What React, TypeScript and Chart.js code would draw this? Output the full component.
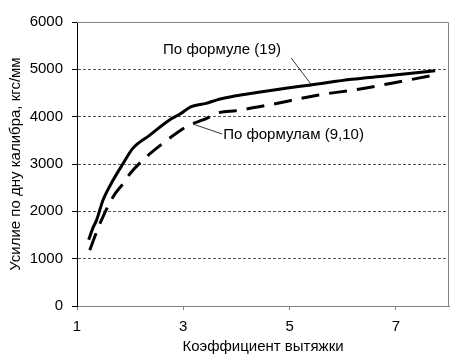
import React, { useEffect, useRef } from 'react';
import { Chart, registerables } from 'chart.js';

Chart.register(...registerables);

// ---- data ----
const formula19X = [1.22, 1.30, 1.37, 1.49, 1.68, 1.87, 2.05, 2.37, 2.74, 2.93, 3.15, 3.43, 3.62, 3.99, 4.30, 4.93, 5.40, 6.17, 6.80, 7.74];
const formula19Y = [1400, 1650, 1820, 2240, 2660, 3015, 3330, 3610, 3930, 4050, 4210, 4280, 4350, 4440, 4494, 4600, 4670, 4790, 4860, 4970];

const formula910X = [1.24, 1.37, 1.49, 1.68, 1.87, 2.00, 2.31, 2.62, 2.87, 3.12, 3.37, 3.69, 3.99, 4.61, 5.55, 6.30, 6.92, 7.64];
const formula910Y = [1180, 1570, 1890, 2310, 2590, 2800, 3155, 3440, 3650, 3825, 3930, 4090, 4127, 4247, 4458, 4580, 4706, 4860];

const seriesLabels = ['По формуле (19)', 'По формулам (9,10)'];
const xTickValues = [1, 3, 5, 7];
const yTickValues = [0, 1000, 2000, 3000, 4000, 5000, 6000];
const xAxisTitle = 'Коэффициент вытяжки';
const yAxisTitle = 'Усилие по дну калибра, кгс/мм';

// callout labels (anchored in data coordinates)
const callouts = [
  { text: seriesLabels[0], at: [2.62, 5410], from: [5.03, 5240], to: [5.40, 4690] },
  { text: seriesLabels[1], at: [3.75, 3613], from: [3.73, 3634], to: [3.18, 3845] },
];

const FONT = '"Liberation Sans", Arial, sans-serif';

const frameAndCallouts = {
  id: 'frameAndCallouts',
  beforeDatasetsDraw(chart: any) {
    const { ctx, chartArea } = chart;
    const { left, top, right, bottom } = chartArea;
    ctx.save();
    ctx.strokeStyle = '#808080';
    ctx.lineWidth = 1;
    ctx.beginPath();
    ctx.moveTo(left, top + 0.5);
    ctx.lineTo(right - 0.5, top + 0.5);
    ctx.lineTo(right - 0.5, bottom);
    ctx.stroke();
    ctx.restore();
  },
  afterDatasetsDraw(chart: any) {
    const { ctx } = chart;
    const xs = chart.scales.x;
    const ys = chart.scales.y;
    ctx.save();
    ctx.fillStyle = '#000';
    ctx.strokeStyle = '#000';
    ctx.lineWidth = 0.8;
    ctx.font = `15px ${FONT}`;
    ctx.textAlign = 'left';
    ctx.textBaseline = 'middle';
    for (const c of callouts) {
      ctx.fillText(c.text, xs.getPixelForValue(c.at[0]), ys.getPixelForValue(c.at[1]));
      ctx.beginPath();
      ctx.moveTo(xs.getPixelForValue(c.from[0]), ys.getPixelForValue(c.from[1]));
      ctx.lineTo(xs.getPixelForValue(c.to[0]), ys.getPixelForValue(c.to[1]));
      ctx.stroke();
    }
    ctx.restore();
  },
};

export default function App() {
  const ref = useRef<HTMLCanvasElement | null>(null);

  useEffect(() => {
    if (!ref.current) return;
    const toPts = (xs: number[], ys: number[]) => xs.map((x, i) => ({ x, y: ys[i] }));
    const chart = new Chart(ref.current, {
      type: 'line',
      data: {
        datasets: [
          {
            label: seriesLabels[0],
            data: toPts(formula19X, formula19Y),
            borderColor: '#000',
            borderWidth: 3,
            pointRadius: 0,
            cubicInterpolationMode: 'monotone',
            fill: false,
          },
          {
            label: seriesLabels[1],
            data: toPts(formula910X, formula910Y),
            borderColor: '#000',
            borderWidth: 3,
            borderDash: [18, 10],
            pointRadius: 0,
            cubicInterpolationMode: 'monotone',
            fill: false,
          },
        ],
      },
      options: {
        animation: false,
        responsive: false,
        layout: { padding: { top: 22, right: 22, left: 0, bottom: 0 } },
        plugins: { legend: { display: false }, tooltip: { enabled: false } },
        scales: {
          x: {
            type: 'linear',
            min: 1,
            max: 8,
            afterBuildTicks: (s: any) => { s.ticks = xTickValues.map((v) => ({ value: v })); },
            afterFit: (s: any) => { s.height = 56; },
            ticks: { color: '#000', font: { family: FONT, size: 15 }, padding: 8, maxRotation: 0, callback: (v: any) => String(v) },
            grid: { drawOnChartArea: false, tickLength: 4, tickColor: '#808080' },
            border: { color: '#808080', width: 1 },
            title: {
              display: true,
              text: xAxisTitle,
              color: '#000',
              font: { family: FONT, size: 15 },
              padding: { top: 0, bottom: 6 },
            },
          },
          y: {
            type: 'linear',
            min: 0,
            max: 6000,
            afterBuildTicks: (s: any) => { s.ticks = yTickValues.map((v) => ({ value: v })); },
            afterFit: (s: any) => { s.width = 77; },
            ticks: { color: '#000', font: { family: FONT, size: 15 }, padding: 9, callback: (v: any) => String(v) },
            grid: {
              color: (c: any) => (c.tick && (c.tick.value === 0 || c.tick.value === 6000) ? 'rgba(0,0,0,0)' : '#555'),
              lineWidth: 1,
              tickLength: 5,
              tickColor: '#000',
              tickBorderDash: [],
            },
            border: { color: '#000', width: 1, dash: [3, 2] },
            title: {
              display: true,
              text: yAxisTitle,
              color: '#000',
              font: { family: FONT, size: 15 },
              padding: { top: 7, bottom: 0 },
            },
          },
        },
      },
      plugins: [frameAndCallouts],
    } as any);
    return () => chart.destroy();
  }, []);

  return (
    <div style={{ position: 'fixed', left: 0, top: 0, width: 471, height: 362, background: '#fff' }}>
      <canvas ref={ref} width={471} height={362} style={{ display: 'block' }} />
    </div>
  );
}
